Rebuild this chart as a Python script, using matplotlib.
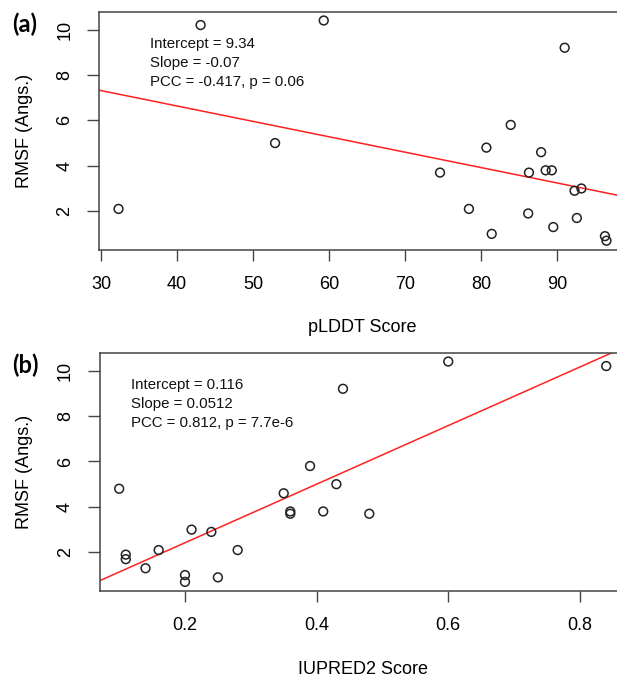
import matplotlib
matplotlib.use("Agg")
import matplotlib.pyplot as plt
import numpy as np

plt.rcParams['font.family'] = ['Liberation Sans', 'DejaVu Sans']

# RMSF per residue (same set in both panels)
plddt = [32.3, 43.1, 59.3, 52.9, 74.6, 78.4, 80.7, 81.4, 83.9, 86.3, 86.2,
         87.9, 88.5, 89.3, 89.5, 91.0, 92.3, 93.2, 92.6, 96.3, 96.5]
rmsf_a = [2.1, 10.2, 10.4, 5.0, 3.7, 2.1, 4.8, 1.0, 5.8, 3.7, 1.9,
          4.6, 3.8, 3.8, 1.3, 9.2, 2.9, 3.0, 1.7, 0.9, 0.7]

iupred = [0.10, 0.11, 0.11, 0.14, 0.16, 0.20, 0.20, 0.21, 0.24, 0.25, 0.28,
          0.35, 0.36, 0.36, 0.39, 0.41, 0.43, 0.44, 0.48, 0.60, 0.84]
rmsf_b = [4.8, 1.9, 1.7, 1.3, 2.1, 1.0, 0.7, 3.0, 2.9, 0.9, 2.1,
          4.6, 3.8, 3.7, 5.8, 3.8, 5.0, 9.2, 3.7, 10.4, 10.2]

xticks_a = [30, 40, 50, 60, 70, 80, 90]
xticks_b = [0.2, 0.4, 0.6, 0.8]
yticks = [2, 4, 6, 8, 10]

stats_a = ["Intercept = 9.34", "Slope = -0.07", "PCC = -0.417, p = 0.06"]
stats_b = ["Intercept = 0.116", "Slope = 0.0512", "PCC = 0.812, p = 7.7e-6"]

W, H = 617, 678
fig = plt.figure(figsize=(W / 100, H / 100), dpi=100)


def r_lim(v):
    lo, hi = min(v), max(v)
    pad = 0.04 * (hi - lo)
    return lo - pad, hi + pad


def panel(rect, x, y, xticks, xlabel, tag, stats, text_xy):
    l, t, w, h = rect
    ax = fig.add_axes([l / W, 1 - (t + h) / H, w / W, h / H])
    ax.set_xlim(*r_lim(x))
    ax.set_ylim(*r_lim(y))
    ax.scatter(x, y, s=40, facecolors='none', edgecolors='#222222',
               linewidths=1.1, zorder=3)
    k, b = np.polyfit(x, y, 1)
    xx = np.array(ax.get_xlim())
    ax.plot(xx, b + k * xx, color='#ff2020', lw=1.1, zorder=2)
    ax.set_xlim(*r_lim(x))

    ax.set_xticks(xticks)
    ax.set_xticklabels([str(v) for v in xticks])
    ax.set_yticks(yticks)
    ax.set_yticklabels([str(v) for v in yticks], rotation=90, va='center')
    ax.tick_params(axis='x', length=8, width=1, color='#444444',
                   pad=11, labelsize=13)
    ax.tick_params(axis='y', length=8.5, width=1, color='#444444',
                   pad=10, labelsize=13)
    for s in ax.spines.values():
        s.set_color('#444444')
        s.set_linewidth(1.1)

    ax.set_xlabel(xlabel, fontsize=13)
    ax.xaxis.set_label_coords(0.5, -0.33)
    ax.xaxis.label.set_va('center')
    ax.set_ylabel("RMSF (Angs.)", fontsize=13)
    ax.yaxis.set_label_coords(-75 / w, 0.5)
    ax.yaxis.label.set_va('center')

    tx, ty = text_xy
    for i, s in enumerate(stats):
        ax.text(tx, ty - i * 19 / h, s, transform=ax.transAxes,
                fontsize=10.8, va='center', ha='left', color='#111111')

    fig.text(12 / W, 1 - (t + 13) / H, tag, fontsize=17, fontweight='bold',
             family=['Lato', 'DejaVu Sans'], va='center', ha='left')
    return ax


panel((99, 11.7, 527, 237.8), plddt, rmsf_a, xticks_a, "pLDDT Score",
      "(a)", stats_a, (51 / 527, 1 - 32 / 237.8))
panel((99.7, 352.7, 526, 238), iupred, rmsf_b, xticks_b, "IUPRED2 Score",
      "(b)", stats_b, (31 / 526, 1 - 32 / 238))

fig.savefig("out.png", dpi=100)
